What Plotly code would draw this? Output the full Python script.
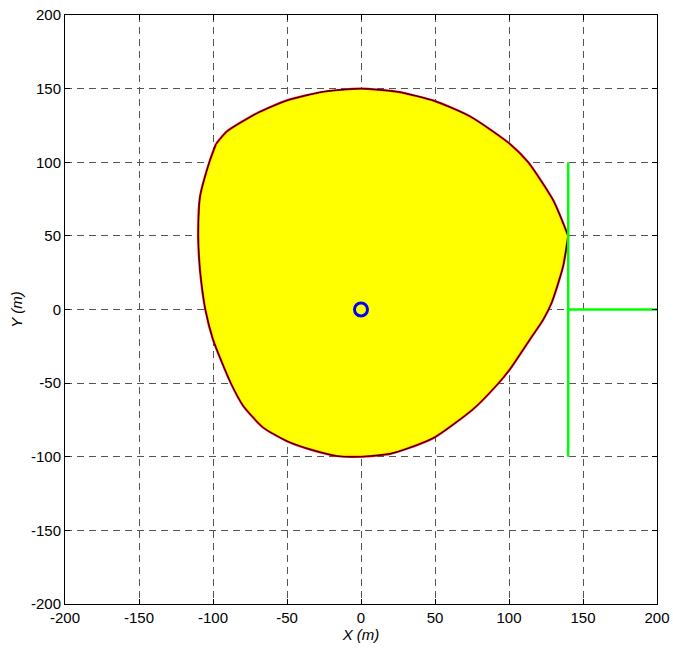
import plotly.graph_objects as go

# boundary of the yellow region (clockwise from the top)
region_x = [0, 25, 50, 74, 100, 113, 130, 140,
            136.5, 128.8, 123.2, 114.2, 100.7, 93, 75.9, 50, 30.9, 19.6, 0,
            -16.4, -34.5, -50, -66, -79.5, -88, -100, -105.2,
            -108.8, -110, -108.8, -102.5, -98,
            -90.8, -70.5, -50, -25.5, 0]
region_y = [150, 147.8, 141.5, 131, 113, 100, 74, 50,
            29, 4.5, -6.8, -20.3, -40.5, -50, -67.6, -86.7, -94.6, -98, -100,
            -99.5, -95, -89.4, -80.3, -65.6, -50, -20.4, 0,
            26.8, 50, 76.6, 100, 112.4,
            120.8, 133.2, 142, 147.9, 150]

# green marker lines
vline_x = [140, 140]
vline_y = [-100, 100]
hline_x = [140, 200]
hline_y = [0, 0]

# centre point
centre_x = [0]
centre_y = [0]

ticks = [-200, -150, -100, -50, 0, 50, 100, 150, 200]
tick_labels = ['-200', '-150', '-100', '-50', '0', '50', '100', '150', '200']

fig = go.Figure()

# yellow fill
fig.add_trace(go.Scatter(
    x=region_x, y=region_y, mode='lines', fill='toself',
    fillcolor='#ffff00', line_shape='spline',
    line=dict(color='#ffff00', width=0.5, smoothing=0.6),
    hoverinfo='skip'))

# outline, split at the two corners so the spline keeps them sharp
i_right = region_x.index(140)
i_left = region_y.index(112.4)
seg1 = (region_x[i_right:i_left + 1], region_y[i_right:i_left + 1])
seg2 = (region_x[i_left:-1] + region_x[:i_right + 1],
        region_y[i_left:-1] + region_y[:i_right + 1])
for sx, sy in (seg1, seg2):
    fig.add_trace(go.Scatter(
        x=sx, y=sy, mode='lines', line_shape='spline',
        line=dict(color='#ff0000', width=2.2, smoothing=0.6),
        hoverinfo='skip'))
    fig.add_trace(go.Scatter(
        x=sx, y=sy, mode='lines', line_shape='spline',
        line=dict(color='#000000', width=1, smoothing=0.6),
        hoverinfo='skip'))

fig.add_trace(go.Scatter(
    x=vline_x, y=vline_y, mode='lines',
    line=dict(color='#00ff00', width=2.5)))
fig.add_trace(go.Scatter(
    x=hline_x, y=hline_y, mode='lines',
    line=dict(color='#00ff00', width=2.5)))
fig.add_trace(go.Scatter(
    x=centre_x, y=centre_y, mode='markers',
    marker=dict(symbol='circle-open', size=13, color='#0000ff',
                line=dict(color='#0000ff', width=3))))

font = dict(family='Arial, Liberation Sans', size=15, color='black')

axis_style = dict(
    range=[-200, 200], tickvals=ticks, ticktext=tick_labels,
    ticks='inside', ticklen=5,
    tickcolor='black', showline=True, linecolor='black', linewidth=1,
    mirror='ticks', showgrid=True, gridcolor='#555555', griddash='7px,5px',
    gridwidth=1, zeroline=False, automargin=False, tickfont=font,
)

fig.update_xaxes(**axis_style,
                 title=dict(text='<i>X (m)</i>', standoff=3, font=font))
fig.update_yaxes(**axis_style,
                 title=dict(text='<i>Y (m)</i>', standoff=4, font=font))

fig.update_layout(
    width=673, height=648,
    margin=dict(l=65, r=16, t=15, b=44),
    plot_bgcolor='white', paper_bgcolor='white',
    showlegend=False,
)

fig.write_html("out.html", config={'displayModeBar': False},
               post_script="document.body.style.margin='0';")
